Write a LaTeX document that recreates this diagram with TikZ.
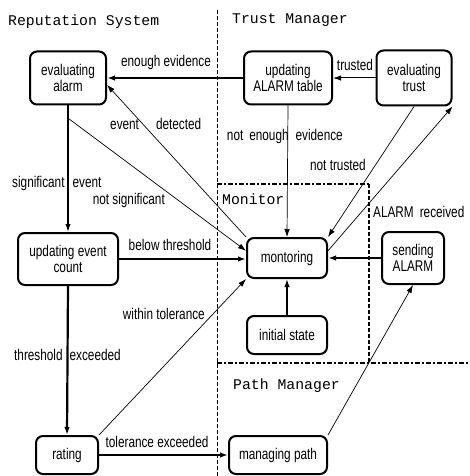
\documentclass[tikz,border=0pt]{standalone}
\usepackage{fontspec}
\setmainfont{Liberation Sans}[FakeStretch=0.76]
\newfontfamily\titlefont{Liberation Mono}
\usetikzlibrary{arrows.meta,calc}
\begin{document}
\begin{tikzpicture}[x=1pt,y=-1pt,
  state/.style={draw, line width=2pt, rounded corners=7pt, align=center, inner sep=1pt,
    font=\fontsize{15.5}{15.5}\selectfont},
  lbl/.style={font=\fontsize{15.5}{16}\selectfont, inner sep=0pt},
  ttl/.style={font=\titlefont\fontsize{14.8}{16}\selectfont, inner sep=0pt},
  arr/.style={-{Latex[length=8pt,width=5.5pt]}},
  thinarr/.style={arr, line width=0.7pt},
  boldarr/.style={arr, line width=2.2pt},
  midarr/.style={arr, line width=1.5pt},
  region/.style={line width=1pt, dash pattern=on 4pt off 2pt},
  regionb/.style={line width=1.6pt, dash pattern=on 5pt off 2pt on 2pt off 2pt}
]
\useasboundingbox (0,0) rectangle (469,476);

% region borders
\coordinate (vtop) at (217,10);
\coordinate (vbot) at (217,476);
\coordinate (mtl) at (217,184);
\coordinate (mtr) at (369,184);
\coordinate (mbr) at (369,363);
\coordinate (hl) at (217,363);
\coordinate (hr) at (469,363);
\draw[region] (vtop) -- (vbot);
\draw[regionb] (mtl) -- (mtr);
\draw[region, line width=1.2pt] (mtr) -- (mbr);
\draw[regionb] (hl) -- (hr);

% titles
\node[ttl, anchor=west] (t1) at (8,22) {Reputation System};
\node[ttl, anchor=west] (t2) at (232,20) {Trust Manager};
\node[ttl, anchor=west] (t3) at (222,199) {Monitor};
\node[ttl, anchor=west] (t4) at (233,386) {Path Manager};

% states
\node[state, minimum width=76pt, minimum height=53pt] (eA) at (68,78) {evaluating\\alarm};
\node[state, minimum width=88pt, minimum height=53pt] (uAT) at (288,78) {updating\\ALARM table};
\node[state, minimum width=75pt, minimum height=55pt] (eT) at (414,78) {evaluating\\trust};
\node[state, minimum width=100pt, minimum height=52pt] (uEC) at (68,259) {updating event\\count};
\node[state, minimum width=80pt, minimum height=40pt] (mon) at (287,258) {montoring};
\node[state, minimum width=62pt, minimum height=52pt] (sA) at (413,258) {sending\\ALARM};
\node[state, minimum width=80pt, minimum height=38pt] (iS) at (287,335) {initial state};
\node[state, minimum width=62pt, minimum height=38pt] (rat) at (67,455) {rating};
\node[state, minimum width=98pt, minimum height=38pt] (mP) at (278,455) {managing path};

% connectors
\draw[boldarr] (uAT.west) -- (eA.east);
\draw[thinarr, line width=1pt] (eT.west) -- (uAT.east);
\draw[thinarr] (uAT.south) -- (mon.north);
\draw[thinarr] (eT.south) -- (mon.north east);
\draw[thinarr] (mon.10) -- (eT.south east);
\draw[thinarr] (mon.north west) -- (eA.-10);
\coordinate (br) at ($(eA.south)!0.1!(uEC.north)$);
\draw[thinarr] (br) -- (mon.170);
\draw[midarr] (eA.south) -- (uEC.north);
\draw[boldarr] (uEC.east) -- (uEC.east -| mon.west);
\draw[boldarr] (uEC.south) -- (rat.north);
\draw[thinarr] (rat.north east) -- (mon.south west);
\draw[boldarr] (rat.east) -- (mP.west);
\draw[boldarr] (sA.west) -- (mon.east);
\draw[midarr] (iS.north) -- (mon.south);
\draw[thinarr] (mP.north east) -- (sA.south);

% labels
\node[lbl] (l1) at (166,62) {enough evidence};
\node[lbl] (l2) at (355,65) {trusted};
\node[lbl, anchor=east] (l3) at (343,136) {not\hspace{6pt}enough\hspace{7pt}evidence};
\node[lbl, anchor=east] (l4) at (366,165) {not trusted};
\node[lbl, anchor=west] (l5) at (373,212) {ALARM\hspace{6pt}received};
\node[lbl, anchor=west] (l6) at (110,124) {event\hspace{17pt}detected};
\node[lbl, anchor=west] (l7) at (12,183) {significant\hspace{8pt}event};
\node[lbl, anchor=east] (l8) at (165,200) {not significant};
\node[lbl] (l9) at (170,245) {below threshold};
\node[lbl, anchor=east] (l10) at (205,314) {within tolerance};
\node[lbl, anchor=west] (l11) at (14,355) {threshold\hspace{7pt}exceeded};
\node[lbl] (l12) at (157,442) {tolerance exceeded};
\end{tikzpicture}
\end{document}
